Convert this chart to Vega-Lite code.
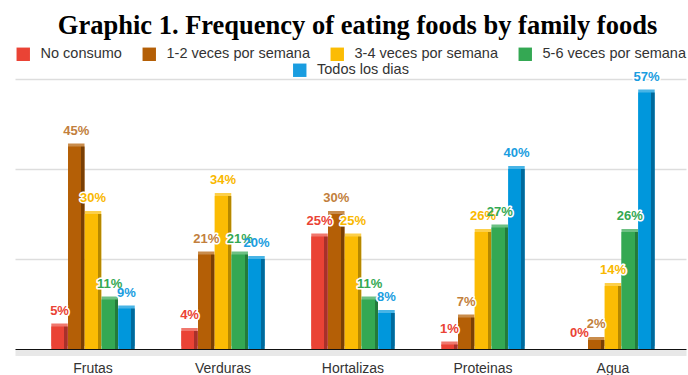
{
  "$schema": "https://vega.github.io/schema/vega-lite/v6.json",
  "autosize": "none",
  "width": 671,
  "height": 270,
  "padding": {"left": 15, "top": 79, "right": 2, "bottom": 26},
  "title": {"text": "Graphic 1. Frequency of eating foods by family foods", "font": "Liberation Serif", "fontSize": 26.5, "fontWeight": "bold", "color": "#000000", "anchor": "middle", "offset": 8, "dx": 7},
  "data": {"values": [
    {"food": "Frutas", "series": "No consumo", "value": 5, "label": "5%"},
    {"food": "Frutas", "series": "1-2 veces por semana", "value": 45, "label": "45%"},
    {"food": "Frutas", "series": "3-4 veces por semana", "value": 30, "label": "30%"},
    {"food": "Frutas", "series": "5-6 veces por semana", "value": 11, "label": "11%"},
    {"food": "Frutas", "series": "Todos los dias", "value": 9, "label": "9%"},
    {"food": "Verduras", "series": "No consumo", "value": 4, "label": "4%"},
    {"food": "Verduras", "series": "1-2 veces por semana", "value": 21, "label": "21%"},
    {"food": "Verduras", "series": "3-4 veces por semana", "value": 34, "label": "34%"},
    {"food": "Verduras", "series": "5-6 veces por semana", "value": 21, "label": "21%"},
    {"food": "Verduras", "series": "Todos los dias", "value": 20, "label": "20%"},
    {"food": "Hortalizas", "series": "No consumo", "value": 25, "label": "25%"},
    {"food": "Hortalizas", "series": "1-2 veces por semana", "value": 30, "label": "30%"},
    {"food": "Hortalizas", "series": "3-4 veces por semana", "value": 25, "label": "25%"},
    {"food": "Hortalizas", "series": "5-6 veces por semana", "value": 11, "label": "11%"},
    {"food": "Hortalizas", "series": "Todos los dias", "value": 8, "label": "8%"},
    {"food": "Proteinas", "series": "No consumo", "value": 1, "label": "1%"},
    {"food": "Proteinas", "series": "1-2 veces por semana", "value": 7, "label": "7%"},
    {"food": "Proteinas", "series": "3-4 veces por semana", "value": 26, "label": "26%"},
    {"food": "Proteinas", "series": "5-6 veces por semana", "value": 27, "label": "27%"},
    {"food": "Proteinas", "series": "Todos los dias", "value": 40, "label": "40%"},
    {"food": "Agua", "series": "No consumo", "value": 0, "label": "0%"},
    {"food": "Agua", "series": "1-2 veces por semana", "value": 2, "label": "2%"},
    {"food": "Agua", "series": "3-4 veces por semana", "value": 14, "label": "14%"},
    {"food": "Agua", "series": "5-6 veces por semana", "value": 26, "label": "26%"},
    {"food": "Agua", "series": "Todos los dias", "value": 57, "label": "57%"}
  ]},
  "encoding": {
    "x": {"field": "food", "type": "nominal", "sort": ["Frutas", "Verduras", "Hortalizas", "Proteinas", "Agua"],
      "scale": {"paddingInner": 0.356, "paddingOuter": 0.259, "align": 0.537},
      "axis": {"title": null, "labelAngle": 0, "labelFont": "Liberation Sans", "labelFontSize": 14, "labelColor": "#333333", "ticks": false, "labelPadding": 9, "offset": 3.5, "domainColor": "#e8e8e8", "domainWidth": 6}},
    "xOffset": {"field": "series", "type": "nominal", "sort": ["No consumo", "1-2 veces por semana", "3-4 veces por semana", "5-6 veces por semana", "Todos los dias"]},
    "y": {"field": "value", "type": "quantitative", "scale": {"domain": [0, 60], "nice": false},
      "axis": {"title": null, "labels": false, "ticks": false, "domain": false, "values": [0, 20, 40, 60],
        "gridColor": {"condition": {"test": "datum.value === 0", "value": "#111111"}, "value": "#dddddd"},
        "gridWidth": {"condition": {"test": "datum.value === 0", "value": 1.2}, "value": 1.5}}}
  },
  "layer": [
    {
      "mark": {"type": "bar", "size": 16.5, "yOffset": -3, "opacity": 0.72},
      "encoding": {
        "color": {"field": "series", "type": "nominal",
          "scale": {"domain": ["No consumo", "1-2 veces por semana", "3-4 veces por semana", "5-6 veces por semana", "Todos los dias"], "range": ["#ea4335", "#b45f06", "#fbbc04", "#34a853", "#0097dc"]},
          "legend": {"values": ["No consumo", "1-2 veces por semana", "3-4 veces por semana", "5-6 veces por semana"], "orient": "top", "direction": "horizontal", "columns": 4, "title": null,
            "symbolType": "square", "symbolSize": 180, "symbolStrokeWidth": 0, "symbolOpacity": 1, "labelFont": "Liberation Sans", "labelFontSize": 14.5, "labelColor": "#333333", "columnPadding": 20, "labelOffset": 10, "labelLimit": 300,
            "encode": {"symbols": {"update": {"opacity": {"value": 1}}}}}}
      }
    },
    {
      "transform": [{"filter": "datum.series === 'No consumo'"}],
      "mark": {"type": "bar", "size": 16.5, "y2Offset": 3, "color": {"gradient": "linear", "x1": 0, "x2": 1, "y1": 0, "y2": 0, "stops": [{"offset": 0, "color": "#ea4335"}, {"offset": 0.8, "color": "#ea4335"}, {"offset": 0.8, "color": "#a8302a"}, {"offset": 1, "color": "#a8302a"}]}}
    },
    {
      "transform": [{"filter": "datum.series === '1-2 veces por semana'"}],
      "mark": {"type": "bar", "size": 16.5, "y2Offset": 3, "color": {"gradient": "linear", "x1": 0, "x2": 1, "y1": 0, "y2": 0, "stops": [{"offset": 0, "color": "#b45f06"}, {"offset": 0.8, "color": "#b45f06"}, {"offset": 0.8, "color": "#7a3f04"}, {"offset": 1, "color": "#7a3f04"}]}}
    },
    {
      "transform": [{"filter": "datum.series === '3-4 veces por semana'"}],
      "mark": {"type": "bar", "size": 16.5, "y2Offset": 3, "color": {"gradient": "linear", "x1": 0, "x2": 1, "y1": 0, "y2": 0, "stops": [{"offset": 0, "color": "#fbbc04"}, {"offset": 0.8, "color": "#fbbc04"}, {"offset": 0.8, "color": "#b58800"}, {"offset": 1, "color": "#b58800"}]}}
    },
    {
      "transform": [{"filter": "datum.series === '5-6 veces por semana'"}],
      "mark": {"type": "bar", "size": 16.5, "y2Offset": 3, "color": {"gradient": "linear", "x1": 0, "x2": 1, "y1": 0, "y2": 0, "stops": [{"offset": 0, "color": "#34a853"}, {"offset": 0.8, "color": "#34a853"}, {"offset": 0.8, "color": "#237a3b"}, {"offset": 1, "color": "#237a3b"}]}}
    },
    {
      "transform": [{"filter": "datum.series === 'Todos los dias'"}],
      "mark": {"type": "bar", "size": 16.5, "y2Offset": 3, "color": {"gradient": "linear", "x1": 0, "x2": 1, "y1": 0, "y2": 0, "stops": [{"offset": 0, "color": "#0097dc"}, {"offset": 0.8, "color": "#0097dc"}, {"offset": 0.8, "color": "#006a9c"}, {"offset": 1, "color": "#006a9c"}]}}
    },
    {
      "mark": {"type": "text", "font": "Liberation Sans", "fontSize": 13, "fontWeight": "bold", "baseline": "alphabetic", "dy": -12, "fill": "#ffffff", "stroke": "#ffffff", "strokeWidth": 3, "strokeJoin": "round"},
      "encoding": {"text": {"field": "label"}}
    },
    {
      "mark": {"type": "text", "font": "Liberation Sans", "fontSize": 13, "fontWeight": "bold", "baseline": "alphabetic", "dy": -12},
      "encoding": {
        "text": {"field": "label"},
        "color": {"field": "series", "type": "nominal",
          "scale": {"domain": ["No consumo", "1-2 veces por semana", "3-4 veces por semana", "5-6 veces por semana", "Todos los dias"], "range": ["#ea4335", "#c27f3d", "#f9b800", "#34a853", "#1a9de0"]},
          "legend": {"values": ["Todos los dias"], "orient": "top", "direction": "horizontal", "title": null,
            "symbolType": "square", "symbolSize": 180, "symbolStrokeWidth": 0, "labelFont": "Liberation Sans", "labelFontSize": 14.5, "labelColor": "#333333", "labelOffset": 10, "labelLimit": 300,
            "encode": {"symbols": {"update": {"fill": {"value": "#0097dc"}, "stroke": {"value": "transparent"}, "opacity": {"value": 1}}}}}}
      }
    }
  ],
  "resolve": {"scale": {"color": "independent"}, "legend": {"color": "independent"}},
  "config": {
    "view": {"stroke": null},
    "legend": {"offset": 2, "layout": {"top": {"anchor": "middle", "direction": "vertical", "center": true, "margin": 2}}}
  }
}
